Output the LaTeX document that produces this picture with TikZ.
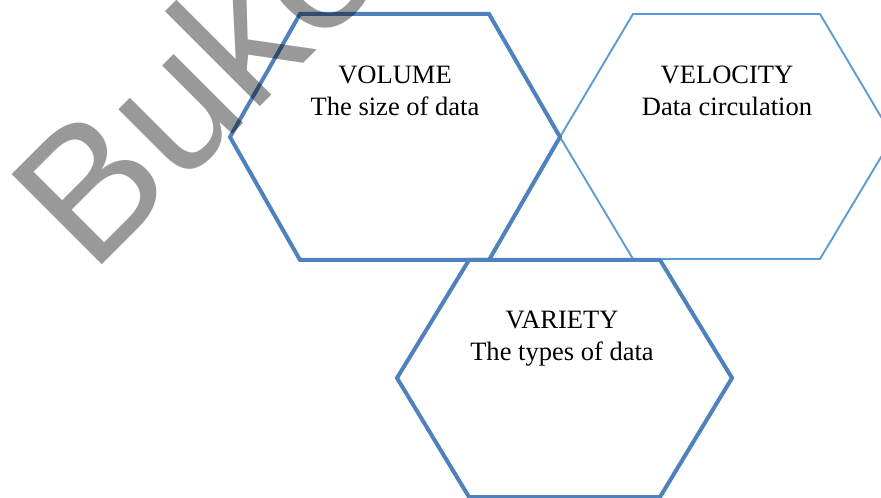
\documentclass[tikz,border=0pt]{standalone}
\usepackage{fontspec}
\setmainfont{Liberation Serif}
\newfontfamily\wmfont{Liberation Sans}
\definecolor{hexdark}{HTML}{4F81BD}
\definecolor{hexlight}{HTML}{5B9BD5}
\begin{document}
\begin{tikzpicture}[x=0.75pt,y=-0.75pt,
  thickhex/.style={draw=hexdark,line width=3pt,line join=miter},
  thinhex/.style={draw=hexlight,line width=1.4pt,line join=miter},
  lbl/.style={anchor=base,inner sep=0pt,font=\fontsize{19.9}{23}\selectfont},
  wm/.style={anchor=base west,inner sep=0pt,rotate=45,text=black,text opacity=0.4,font=\wmfont\fontsize{139}{150}\selectfont}]
\useasboundingbox (0,0) rectangle (881,498);
\clip (0,0) rectangle (881,498);
\fill[white] (0,0) rectangle (881,498);
% hexagons
\draw[thinhex] (633,14) -- (820,14) -- (893,137) -- (820,259) -- (633,259) -- (560,137) -- cycle;
\draw[thickhex] (300,14) -- (489,14) -- (560,137) -- (489,260) -- (300,260) -- (230,137) -- cycle;
\draw[thickhex] (469,260) -- (660,260) -- (732,378) -- (660,497) -- (469,497) -- (397,378) -- cycle;
% labels
\node[lbl] (vol) at (395,84) {VOLUME};
\node[lbl] (vold) at (395,116) {The size of data};
\node[lbl] (vel) at (727,84) {VELOCITY};
\node[lbl] (veld) at (727,116) {Data circulation};
\node[lbl] (var) at (562,329) {VARIETY};
\node[lbl] (vard) at (562,361) {The types of data};
% watermark
\node[wm] (mark) at (91.5,275.5) {Buke};
\end{tikzpicture}
\end{document}
